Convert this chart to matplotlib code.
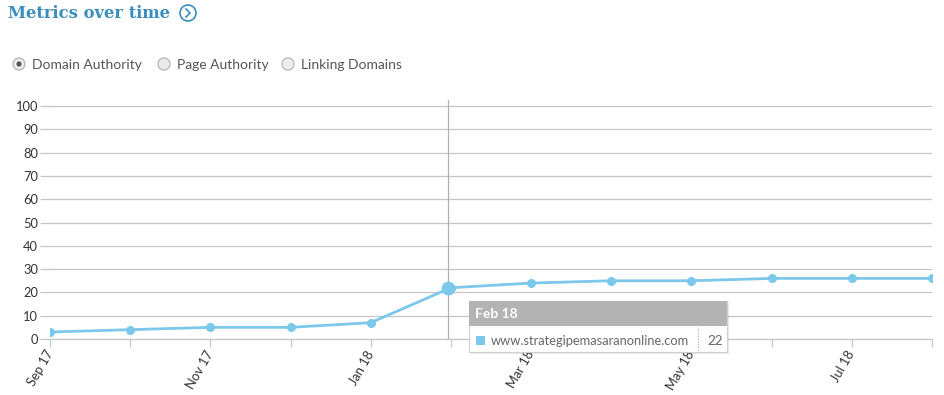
import matplotlib
matplotlib.use("Agg")
import matplotlib.pyplot as plt
from matplotlib.patches import Rectangle, Circle
from matplotlib.lines import Line2D
from matplotlib.transforms import IdentityTransform

# ---- data ----
months = ["Sep 17", "Oct 17", "Nov 17", "Dec 17", "Jan 18", "Feb 18",
          "Mar 18", "Apr 18", "May 18", "Jun 18", "Jul 18", "Aug 18"]
domain_authority = [3, 4, 5, 5, 7, 22, 24, 25, 25, 26, 26, 26]
tick_labels = ["Sep 17", "", "Nov 17", "", "Jan 18", "", "Mar 18", "", "May 18", "", "Jul 18", ""]
yticks = [0, 10, 20, 30, 40, 50, 60, 70, 80, 90, 100]
radio_options = ["Domain Authority", "Page Authority", "Linking Domains"]
hover_index = 5
site = "www.strategipemasaranonline.com"

W, H = 945, 395
fig = plt.figure(figsize=(W / 100, H / 100), dpi=100)
fig.patch.set_facecolor("white")

def fx(x):
    return x / W

def fy(y):
    return 1 - y / H

PIX = IdentityTransform()

def circ(x, y, r, **kw):
    return Circle((x, H - y), r, transform=PIX, **kw)

FONT = ["Lato", "DejaVu Sans"]
LINE_COLOR = "#7cc8ea"
GRID = "#c6c6c6"
TITLE = "#3b8dbb"

# ---- axes ----
x0, x1 = 50, 932
ytop, ybot = 100, 339
ax = fig.add_axes([fx(x0), fy(ybot), (x1 - x0) / W, (ybot - ytop) / H])
xs = list(range(len(months)))
ax.set_xlim(0, len(months) - 1)
ymax = 100 * (ybot - ytop) / (ybot - 106)
ax.set_ylim(0, ymax)
ax.set_yticks(yticks)
ax.set_yticklabels([str(v) for v in yticks], family=FONT, fontsize=9.3, color="#333333")
ax.set_xticks(xs)
ax.set_xticklabels(tick_labels, family=FONT, fontsize=9.3, color="#333333")
for lab in ax.get_xticklabels():
    lab.set_rotation(60)
    lab.set_ha("right")
    lab.set_va("center")
    lab.set_rotation_mode("anchor")
ax.tick_params(axis="x", length=6, width=0.9, color=GRID, pad=3)
ax.tick_params(axis="y", length=7, width=0.9, color=GRID, pad=1.5)
ax.grid(axis="y", color=GRID, linewidth=0.9)
for s in ["top", "right", "left"]:
    ax.spines[s].set_visible(False)
ax.spines["bottom"].set_color(GRID)
ax.spines["bottom"].set_linewidth(0.9)
ax.set_axisbelow(True)

# crosshair
ax.axvline(hover_index - 0.04, color="#b0b0b0", linewidth=0.9, zorder=1)

ax.plot(xs, domain_authority, color=LINE_COLOR, linewidth=2, marker="o",
        markersize=6.5, markeredgewidth=0, zorder=3)
ax.plot([xs[hover_index] - 0.04], [domain_authority[hover_index]], marker="o",
        color=LINE_COLOR, markersize=10, markeredgewidth=0, zorder=4)

# ---- title ----
fig.text(fx(8), fy(13), "Metrics over time", family=["DejaVu Serif"], fontweight="bold",
         fontsize=11.8, color=TITLE, va="center", ha="left")
fig.add_artist(circ(188, 13, 8, fill=False, edgecolor=TITLE, linewidth=1.2))
fig.add_artist(Line2D([186, 190, 186], [H - 9, H - 13, H - 17], transform=PIX,
                      color=TITLE, linewidth=1.2))

# ---- radio buttons ----
radio_x = [19, 164, 288]
for i, (rx, lab) in enumerate(zip(radio_x, radio_options)):
    fig.add_artist(circ(rx, 64, 6, facecolor="#ececec", edgecolor="#b5b5b5", linewidth=0.9))
    if i == 0:
        fig.add_artist(circ(rx, 64, 2.6, facecolor="#555555", edgecolor="none"))
    fig.text(fx(rx + 13), fy(65), lab, family=FONT, fontsize=10, color="#555555",
             va="center", ha="left")

# ---- tooltip ----
bx0, bx1, by0, by1, hy = 469, 727, 301, 352, 326
fig.add_artist(Rectangle((fx(bx0 + 2), fy(by1 + 2)), (bx1 - bx0) / W, (by1 - by0) / H,
                         transform=fig.transFigure, facecolor="#000000", alpha=0.08,
                         edgecolor="none", zorder=9))
fig.add_artist(Rectangle((fx(bx0), fy(by1)), (bx1 - bx0) / W, (by1 - by0) / H,
                         transform=fig.transFigure, facecolor="white",
                         edgecolor="#d0d0d0", linewidth=0.8, zorder=10))
fig.add_artist(Rectangle((fx(bx0), fy(hy)), (bx1 - bx0) / W, (hy - by0) / H,
                         transform=fig.transFigure, facecolor="#b3b3b3",
                         edgecolor="none", zorder=11))
fig.text(fx(475), fy(314), months[hover_index], family=FONT, fontweight="bold",
         fontsize=10, color="white", va="center", ha="left", zorder=12)
fig.add_artist(Rectangle((fx(476), fy(345)), 9 / W, 9 / H, transform=fig.transFigure,
                         facecolor=LINE_COLOR, edgecolor="none", zorder=12))
fig.text(fx(491), fy(341), site, family=FONT, fontsize=9.3, color="#666666",
         va="center", ha="left", zorder=12)
fig.add_artist(Line2D([fx(698), fx(698)], [fy(327), fy(352)], transform=fig.transFigure,
                      color="#aaaaaa", linewidth=0.8, linestyle=(0, (1, 1.5)), zorder=12))
fig.text(fx(707), fy(341), str(domain_authority[hover_index]), family=FONT, fontsize=9.6,
         color="#666666", va="center", ha="left", zorder=12)

fig.savefig("out.png", dpi=100, facecolor="white")
